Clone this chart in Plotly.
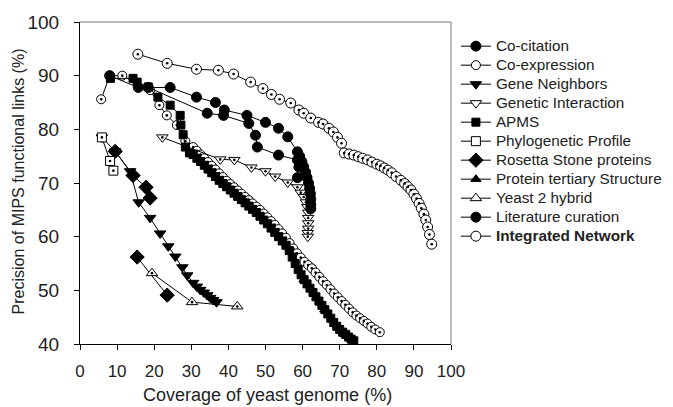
import plotly.graph_objects as go

# ---------------- data ----------------
cocit_x = [8.0, 15.7, 24.3, 31.4, 36.5, 38.9, 45.0, 50.0, 53.5, 56.0, 58.6, 59.2, 59.8, 60.3, 60.8, 61.2, 61.6, 61.9, 62.1, 62.2, 62.2, 62.2]
cocit_y = [90.0, 87.8, 87.8, 86.0, 85.0, 83.6, 82.6, 81.3, 80.2, 78.6, 75.8, 75.0, 74.0, 73.0, 72.0, 71.0, 70.0, 69.0, 68.0, 67.0, 66.0, 65.2]

coexp_x = [5.7, 8.0, 11.4, 18.9, 21.4, 23.4, 26.1, 28.4, 30.5, 31.5, 32.5, 33.5, 34.5, 35.5, 36.5, 37.5, 38.5, 39.5, 40.5,
           41.5, 42.5, 43.5, 44.5, 45.5, 46.5, 47.5, 48.5, 49.5, 50.5, 51.5, 52.5, 53.5, 54.5, 55.5, 56.5, 57.5, 58.5,
           59.5, 60.5, 61.5, 62.5, 63.5, 64.5, 65.5, 66.5, 67.5, 68.5, 69.5, 70.5, 71.5, 72.5, 73.5, 74.5, 75.5, 76.5,
           77.5, 78.5, 79.6, 80.8]
coexp_y = [85.6, 90.0, 90.0, 87.3, 84.5, 82.6, 80.8, 77.8, 76.7, 76.0, 75.3, 74.6, 73.9, 73.2, 72.5, 71.8, 71.1, 70.4, 69.8,
           69.2, 68.6, 68.0, 67.4, 66.8, 66.2, 65.6, 65.0, 64.3, 63.6, 62.9, 62.2, 61.4, 60.6, 59.8, 58.8, 57.8, 56.9,
           56.1, 55.3, 54.7, 54.1, 53.3, 52.5, 51.7, 51.0, 50.2, 49.4, 48.7, 48.0, 47.3, 46.6, 45.9, 45.3, 44.8, 44.3,
           43.8, 43.2, 42.7, 42.2]

geneneigh_x = [5.9, 9.5, 13.5, 15.8, 18.9, 21.6, 23.8, 25.7, 27.6, 28.9, 30.5, 31.5, 32.4, 33.4, 34.3, 35.1, 35.9, 36.8]
geneneigh_y = [78.5, 75.9, 72.2, 66.4, 63.5, 60.6, 58.2, 56.3, 54.3, 52.8, 51.4, 50.7, 50.1, 49.6, 49.1, 48.6, 48.2, 47.8]

genint_x = [22.2, 37.8, 41.6, 46.2, 50.0, 52.6, 56.0, 58.6, 59.5, 60.3, 60.9, 61.3, 61.5, 61.5, 61.5, 61.5, 61.4, 61.4]
genint_y = [78.5, 74.4, 74.3, 72.9, 72.2, 71.2, 70.1, 69.2, 68.2, 67.4, 66.4, 65.5, 64.5, 63.5, 62.5, 61.5, 60.7, 60.0]

apms_x = [8.2, 14.3, 15.4, 18.4, 21.0, 24.3, 27.0, 27.2, 27.8, 28.4, 29.5, 30.5, 31.5, 32.5, 33.5, 34.5, 35.5, 36.5,
          37.5, 38.5, 39.5, 40.5, 41.5, 42.5, 43.5, 44.5, 45.5, 46.5, 47.5, 48.5, 49.5, 50.5, 51.5, 52.5, 53.5, 54.5,
          55.5, 56.4, 57.2, 58.0, 58.8, 59.6, 60.4, 61.2, 62.0, 62.8, 63.6, 64.4, 65.2, 66.0, 66.8, 67.6, 68.4, 69.2,
          70.0, 70.8, 71.6, 72.4, 73.1, 73.8]
apms_y = [89.5, 89.5, 88.8, 87.9, 86.0, 84.5, 82.6, 80.8, 79.0, 76.7, 75.6, 75.3, 74.6, 74.0, 73.3, 72.6, 71.9, 71.2,
          70.5, 69.9, 69.3, 68.7, 68.1, 67.5, 66.9, 66.3, 65.7, 65.1, 64.5, 63.8, 63.1, 62.4, 61.6, 60.8, 60.0, 59.2,
          58.4, 57.4, 56.2, 55.0, 53.9, 52.9, 52.0, 51.2, 50.4, 49.6, 48.8, 48.0, 47.2, 46.4, 45.6, 44.8, 44.0, 43.3,
          42.7, 42.2, 41.8, 41.3, 40.9, 40.6]

phylo_x = [5.9, 8.1, 9.0]
phylo_y = [78.5, 74.1, 72.3]

rosetta_x = [9.5, 14.3, 17.8, 18.9, None, 15.4, 23.5]
rosetta_y = [75.9, 71.4, 69.2, 67.2, None, 56.2, 49.1]

tertiary_x = [60.4, 66.0, 71.6]
tertiary_y = [52.0, 46.4, 41.8]

y2h_x = [19.4, 30.2, 42.4]
y2h_y = [53.2, 47.8, 47.0]

litcur_x = [18.4, 34.3, 38.7, 45.5, 47.3, 47.8, 53.5, 58.6, 59.0, 58.6]
litcur_y = [87.8, 83.0, 82.6, 81.1, 78.9, 76.7, 75.2, 74.3, 73.0, 71.0]

integ_x = [15.6, 23.5, 31.4, 37.3, 41.4, 46.0, 49.3, 51.6, 53.8, 56.8, 59.0, 60.3, 62.2, 64.3, 65.5, 67.1, 68.3, 69.4,
           70.5, 71.2, 72.5, 73.8, 75.0, 76.2, 77.5, 78.7, 80.0, 81.0, 82.0, 83.0, 84.0, 85.2, 86.5, 87.5, 88.4, 89.2,
           90.0, 90.7, 91.4, 92.0, 92.7, 93.2, 93.7, 94.2, 94.8]
integ_y = [94.0, 92.3, 91.2, 91.0, 90.3, 88.8, 87.6, 86.5, 85.6, 84.9, 83.6, 83.0, 82.1, 81.3, 81.0, 80.2, 79.5, 78.5,
           77.4, 75.6, 75.4, 75.2, 74.9, 74.6, 74.3, 73.9, 73.5, 73.2, 72.8, 72.4, 71.9, 71.2, 70.5, 69.9, 69.3, 68.7,
           67.9, 67.1, 66.2, 65.3, 64.2, 63.1, 61.8, 60.4, 58.6]

x_ticks = [0, 10, 20, 30, 40, 50, 60, 70, 80, 90, 100]
y_ticks = [40, 50, 60, 70, 80, 90, 100]

x_title = "Coverage of yeast genome (%)"
y_title = "Precision of MIPS functional links (%)"

# ---------------- figure ----------------
fig = go.Figure()

def add(name, x, y, symbol, size, filled, rank, bold=False, dot=False):
    label = f"<b>{name}</b>" if bold else name
    fig.add_trace(go.Scatter(
        x=x, y=y, mode="lines+markers", name=f'<span style="font-size:15.3px">{label}</span>',
        legendrank=rank, connectgaps=False, legendgroup=name,
        line=dict(color="black", width=1),
        marker=dict(symbol=symbol, size=size,
                    color="black" if filled else "white",
                    line=dict(color="black", width=1)),
    ))
    if dot:
        fig.add_trace(go.Scatter(
            x=x, y=y, mode="markers", showlegend=False, legendgroup=name, hoverinfo="skip",
            marker=dict(symbol="circle", size=2.6, color="black", line=dict(width=0)),
        ))

# draw order (bottom to top); legend order by rank
add("Protein tertiary Structure", tertiary_x, tertiary_y, "triangle-up", 9, True, 8)
add("Co-expression", coexp_x, coexp_y, "circle", 9, False, 2, dot=True)
add("APMS", apms_x, apms_y, "square", 8, True, 5)
add("Genetic Interaction", genint_x, genint_y, "triangle-down", 10, False, 4, dot=True)
add("Literature curation", litcur_x, litcur_y, "circle", 10, True, 10)
add("Co-citation", cocit_x, cocit_y, "circle", 10, True, 1)
add("Gene Neighbors", geneneigh_x, geneneigh_y, "triangle-down", 10, True, 3)
add("Rosetta Stone proteins", rosetta_x, rosetta_y, "diamond", 11, True, 7)
add("Phylogenetic Profile", phylo_x, phylo_y, "square", 9, False, 6, dot=True)
add("Yeast 2 hybrid", y2h_x, y2h_y, "triangle-up", 10, False, 9, dot=True)
add("Integrated Network", integ_x, integ_y, "circle", 10, False, 11, bold=True, dot=True)

font_family = "Liberation Sans, Arial, sans-serif"

# page body keeps its default 8px margin; the figure is a bit larger than the window so the
# legend never pushes the plot margin and the x title has room below
fig.update_layout(
    width=695, height=407,
    margin=dict(l=72, r=252, t=14, b=71),
    plot_bgcolor="white", paper_bgcolor="white",
    font=dict(family=font_family, color="#222"),
    showlegend=True,
    legend=dict(x=1.0132, xanchor="left", y=0.970, yanchor="top",
                font=dict(size=11.9, family=font_family, color="#222"),
                bgcolor="rgba(0,0,0,0)", borderwidth=0, traceorder="normal"),
    xaxis=dict(range=[0, 100], tickvals=x_ticks, ticks="outside", ticklen=5, tickcolor="black",
               showline=True, linecolor="black", linewidth=1, showgrid=False, zeroline=False,
               ticklabelstandoff=7, automargin=False, tickfont=dict(size=17)),
    yaxis=dict(range=[40, 100], tickvals=y_ticks, ticks="outside", ticklen=5, tickcolor="black",
               showline=True, linecolor="black", linewidth=1, showgrid=False, zeroline=False,
               ticklabelstandoff=11, automargin=False, tickfont=dict(size=19)),
    annotations=[
        dict(text=x_title, xref="paper", yref="paper", x=0.505, y=-0.158, xanchor="center", yanchor="middle",
             showarrow=False, font=dict(size=18, family=font_family, color="#222")),
        dict(text=y_title, xref="paper", yref="paper", x=-0.1671, y=0.505, xanchor="center", yanchor="middle",
             textangle=-90, showarrow=False, font=dict(size=16, family=font_family, color="#222")),
    ],
    shapes=[
        dict(type="line", xref="paper", yref="paper", x0=0, x1=1, y0=1, y1=1, line=dict(color="#777", width=1)),
        dict(type="line", xref="paper", yref="paper", x0=1, x1=1, y0=0, y1=1, line=dict(color="#777", width=1)),
    ],
)

fig.write_html("out.html")
